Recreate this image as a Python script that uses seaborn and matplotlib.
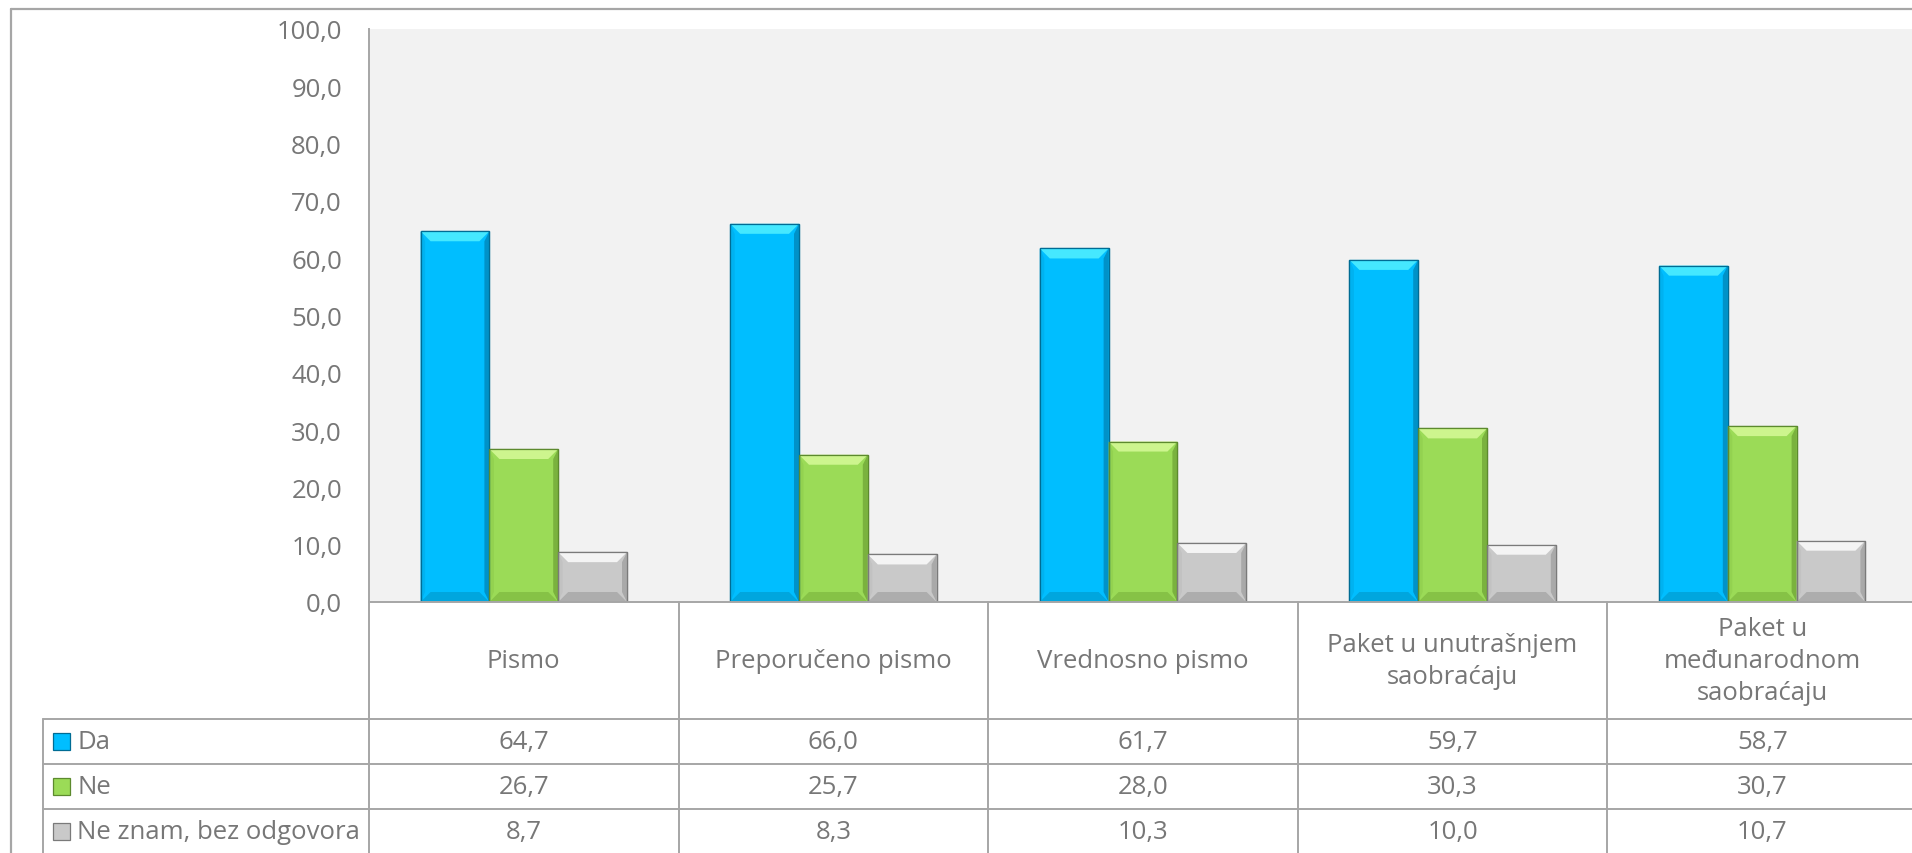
import matplotlib
matplotlib.use("Agg")
import matplotlib.pyplot as plt
import seaborn as sns
import pandas as pd
from matplotlib.patches import Polygon, Rectangle
from matplotlib.lines import Line2D

# ---------------- data ----------------
categories = ["Pismo", "Preporučeno pismo", "Vrednosno pismo",
              "Paket u unutrašnjem\nsaobraćaju",
              "Paket u\nmeđunarodnom\nsaobraćaju"]
series = ["Da", "Ne", "Ne znam, bez odgovora"]
da = [64.7, 66.0, 61.7, 59.7, 58.7]
ne = [26.7, 25.7, 28.0, 30.3, 30.7]
ne_znam = [8.7, 8.3, 10.3, 10.0, 10.7]
y_ticks = [0, 10, 20, 30, 40, 50, 60, 70, 80, 90, 100]

values = [da, ne, ne_znam]
df = pd.DataFrame({
    "Kategorija": [c for s in series for c in categories],
    "Odgovor": [s for s in series for c in categories],
    "Vrednost": [v for vals in values for v in vals],
})

# ---------------- style ----------------
face = ["#00BEFF", "#9BDB57", "#C9C9C9"]
top_c = ["#45E8FF", "#CDF58E", "#F4F4F4"]
bot_c = ["#00A6DE", "#86C246", "#ADADAD"]
left_c = ["#00B2F0", "#93D250", "#C2C2C2"]
right_c = ["#0092C8", "#7AB23E", "#A9A9A9"]
edge_c = ["#006C94", "#5C8A2E", "#7A7A7A"]
txt = "#777777"
line_c = "#A6A6A6"
fs = 18.5

W, H = 1912, 854
sns.set_style("white")
plt.rcParams["font.family"] = ["Open Sans", "DejaVu Sans"]
fig = plt.figure(figsize=(W / 100, H / 100), dpi=100)


def px_axes(left, top, right, bottom):
    return fig.add_axes([left / W, 1 - bottom / H, (right - left) / W, (bottom - top) / H])


col_w = 309.6
plot_left, plot_top, base_y = 369, 30, 603
plot_right = plot_left + 5 * col_w

# ---------------- chart ----------------
ax = px_axes(plot_left, plot_top, plot_right, base_y)
ax.set_facecolor("#F2F2F2")
sns.barplot(data=df, x="Kategorija", y="Vrednost", hue="Odgovor",
            order=categories, hue_order=series, palette=face,
            width=2 / 3, gap=0, saturation=1, legend=False, ax=ax, zorder=3)
ax.set_xlim(-0.5, 4.5)
ax.set_ylim(0, 100)
ax.set_yticks(y_ticks)
ax.set_yticklabels([f"{v:.1f}".replace(".", ",") for v in y_ticks])
ax.set_xticks([])
ax.set_xlabel("")
ax.set_ylabel("")
ax.tick_params(axis="y", length=0, pad=19.4, labelsize=fs, labelcolor=txt)
for s in ["top", "right"]:
    ax.spines[s].set_visible(False)
for s in ["left", "bottom"]:
    ax.spines[s].set_color(line_c)
    ax.spines[s].set_linewidth(1.4)
    ax.spines[s].set_zorder(6)

# bevel effect derived from each bar's geometry
bx = 10 / col_w
by = 10 * 100 / (base_y - plot_top)
for k, cont in enumerate(ax.containers):
    for bar in cont:
        bar.set_edgecolor(edge_c[k])
        bar.set_linewidth(0.9)
        x0 = bar.get_x()
        x1 = x0 + bar.get_width()
        h = bar.get_height()
        b = min(by, h / 2)
        polys = [
            ([(x0, h), (x1, h), (x1 - bx, h - b), (x0 + bx, h - b)], top_c[k]),
            ([(x0, 0), (x1, 0), (x1 - bx, b), (x0 + bx, b)], bot_c[k]),
            ([(x0, 0), (x0 + bx * 0.45, b), (x0 + bx * 0.45, h - b), (x0, h)], left_c[k]),
            ([(x1, 0), (x1 - bx * 0.5, b), (x1 - bx * 0.5, h - b), (x1, h)], right_c[k]),
        ]
        for pts, c in polys:
            ax.add_patch(Polygon(pts, closed=True, facecolor=c, edgecolor="none", zorder=4))
        ax.add_patch(Rectangle((x0, 0), x1 - x0, h, facecolor="none",
                               edgecolor=edge_c[k], linewidth=0.9, zorder=5))

# ---------------- data table ----------------
legend_left = 43
rows = [0, 117, 162, 207, 252]
tax = px_axes(legend_left, base_y, plot_right, base_y + rows[-1])
xmin = -0.5 - (plot_left - legend_left) / col_w
tax.set_xlim(xmin, 4.5)
tax.set_ylim(rows[-1], 0)
tax.axis("off")


def tline(xs, ys):
    tax.add_line(Line2D(xs, ys, color=line_c, linewidth=1.4, clip_on=False))


for i in range(6):
    tline([i - 0.5, i - 0.5], [0, rows[-1]])
tline([xmin, xmin], [rows[1], rows[-1]])
for r in rows[1:]:
    tline([xmin, 4.5], [r, r])

for i, cat in enumerate(categories):
    tax.text(i, (rows[0] + rows[1]) / 2, cat, ha="center", va="center",
             fontsize=fs, color=txt, linespacing=1.35)

for k, (name, vals) in enumerate(zip(series, values)):
    yc = (rows[k + 1] + rows[k + 2]) / 2
    for i, v in enumerate(vals):
        tax.text(i, yc, f"{v:.1f}".replace(".", ","), ha="center", va="center",
                 fontsize=fs, color=txt)
    tax.add_patch(Rectangle((xmin + 10 / col_w, yc - 8.5), 17 / col_w, 17,
                            facecolor=face[k], edgecolor=edge_c[k], linewidth=0.9,
                            clip_on=False))
    tax.text(xmin + 34 / col_w, yc, name, ha="left", va="center",
             fontsize=fs, color=txt)

# outer chart frame
fig.add_artist(Line2D([11 / W, 1], [1 - 10 / H, 1 - 10 / H], transform=fig.transFigure,
                      color="#A6A6A6", linewidth=1.6))
fig.add_artist(Line2D([11 / W, 11 / W], [1 - 10 / H, 0], transform=fig.transFigure,
                      color="#A6A6A6", linewidth=1.6))

fig.savefig("out.png", dpi=100)
